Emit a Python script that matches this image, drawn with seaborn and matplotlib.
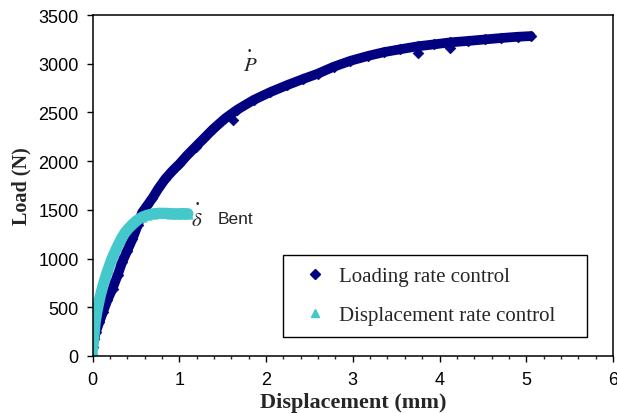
import matplotlib
matplotlib.use("Agg")
import matplotlib.pyplot as plt
import seaborn as sns
from matplotlib.ticker import MultipleLocator
from matplotlib.lines import Line2D

# =========================================================
# DATA
# =========================================================

# Loading rate control curve
load_x = [0.00, 0.02, 0.04, 0.08, 0.12, 0.17, 0.23, 0.29, 0.34, 0.40,
          0.46, 0.52, 0.57, 0.63, 0.69, 0.76, 0.84, 0.92, 1.00, 1.09,
          1.19, 1.29, 1.39, 1.53, 1.67, 1.86, 2.05, 2.24, 2.43, 2.60,
          2.78, 2.97, 3.17, 3.36, 3.55, 3.75, 3.94, 4.12, 4.33, 4.52,
          4.71, 4.90, 5.05]
load_y = [90, 170, 250, 350, 450, 570, 690, 830, 960, 1080,
          1200, 1340, 1470, 1545, 1620, 1720, 1820, 1900, 1970, 2060,
          2150, 2240, 2330, 2440, 2530, 2630, 2710, 2780, 2845, 2900,
          2970, 3030, 3080, 3120, 3150, 3180, 3200, 3220, 3235, 3250,
          3265, 3278, 3285]

# a few stray readings sitting under the loading curve
stray_x = [1.62, 3.75, 4.12]
stray_y = [2420, 3110, 3165]

# Displacement rate control curve
disp_x = [0.00, 0.01, 0.02, 0.03, 0.05, 0.07, 0.09, 0.12, 0.15, 0.18,
          0.22, 0.26, 0.29, 0.33, 0.37, 0.41, 0.46, 0.51, 0.57, 0.63,
          0.70, 0.76, 0.83, 0.90, 0.97, 1.04, 1.10]
disp_y = [60, 150, 240, 340, 450, 540, 620, 720, 810, 890,
          990, 1070, 1130, 1200, 1260, 1305, 1350, 1390, 1425, 1445,
          1460, 1465, 1465, 1462, 1460, 1462, 1460]

x_ticks = [0, 1, 2, 3, 4, 5, 6]
y_ticks = [0, 500, 1000, 1500, 2000, 2500, 3000, 3500]

labels = ["Loading rate control", "Displacement rate control"]

NAVY = "#000080"
CYAN = "#44C8CC"

# =========================================================
# STYLE
# =========================================================

sns.set_style("ticks")
plt.rcParams["font.family"] = ["Liberation Sans", "DejaVu Sans"]
plt.rcParams["mathtext.fontset"] = "stix"

fig = plt.figure(figsize=(6.17, 4.14), dpi=100)
ax = fig.add_axes([0.150, 0.138, 0.8435, 0.823])

# =========================================================
# CURVES
# =========================================================

sns.lineplot(x=load_x, y=load_y, color=NAVY, lw=7, sort=False,
             estimator=None, ax=ax, legend=False)
sns.scatterplot(x=load_x, y=load_y, marker="D", s=30, color=NAVY,
                edgecolor=NAVY, ax=ax, legend=False)
sns.scatterplot(x=stray_x, y=stray_y, marker="D", s=30, color=NAVY,
                edgecolor=NAVY, ax=ax, legend=False)

sns.lineplot(x=disp_x, y=disp_y, color=CYAN, lw=8, sort=False,
             estimator=None, ax=ax, legend=False)
sns.scatterplot(x=disp_x, y=disp_y, marker="^", s=45, color=CYAN,
                edgecolor=CYAN, ax=ax, legend=False)

# =========================================================
# AXES
# =========================================================

ax.set_xlim(0, 6)
ax.set_ylim(0, 3500)
ax.set_xticks(x_ticks)
ax.set_yticks(y_ticks)
ax.xaxis.set_minor_locator(MultipleLocator(0.2))
ax.tick_params(axis="both", which="major", direction="out", length=4,
               width=1, labelsize=13, color="black", labelcolor="black")
ax.tick_params(axis="y", which="major", pad=6)
ax.tick_params(axis="x", which="major", pad=7)
ax.tick_params(axis="x", which="minor", direction="out", length=2.5, width=1)

for spine in ax.spines.values():
    spine.set_visible(True)
    spine.set_color("black")
    spine.set_linewidth(1.1)

ax.set_xlabel("Displacement (mm)", family="Liberation Serif",
              fontweight="bold", fontsize=16, labelpad=3)
ax.set_ylabel("Load (N)", family="Liberation Serif",
              fontweight="bold", fontsize=14.5, labelpad=5)

# =========================================================
# ANNOTATIONS
# =========================================================

ax.text(1.82, 2990, r"$P$", fontsize=15, ha="center", va="center")
ax.text(1.81, 3142, "•", fontsize=7, ha="center", va="center")
ax.text(1.20, 1400, r"$\delta$", fontsize=15, ha="center", va="center")
ax.text(1.21, 1571, "•", fontsize=7, ha="center", va="center")
ax.text(1.65, 1410, "Bent", fontsize=12.5, ha="center", va="center")

# =========================================================
# LEGEND
# =========================================================

handles = [
    Line2D([], [], marker="D", ls="none", color=NAVY, markersize=5),
    Line2D([], [], marker="^", ls="none", color=CYAN, markersize=6),
]

leg = ax.legend(handles, labels, loc="lower left",
                bbox_to_anchor=(0.366, 0.056, 0.584, 0.237), mode="expand",
                borderaxespad=0, frameon=True, fancybox=False, framealpha=1,
                edgecolor="black",
                prop={"family": "Liberation Serif", "size": 15},
                handlelength=2.0, handletextpad=0.15, borderpad=0.55,
                labelspacing=0.95)
leg.get_frame().set_linewidth(1.0)

plt.savefig("out.png", dpi=100)
